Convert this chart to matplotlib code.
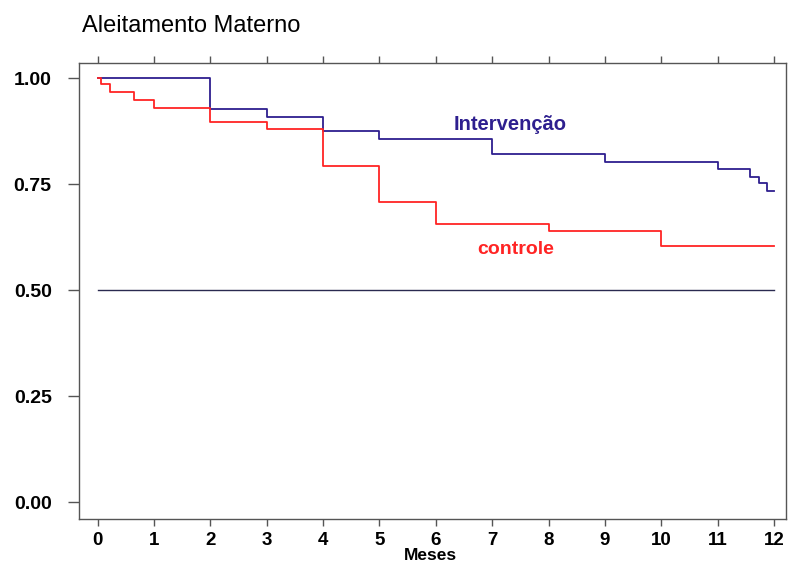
import matplotlib
matplotlib.use('Agg')
import matplotlib.pyplot as plt

plt.rcParams['font.family'] = ['Liberation Sans', 'DejaVu Sans']

# survival curves (Kaplan-Meier)
meses_interv = [0, 2, 3, 4, 5, 7, 9, 11, 11.57, 11.73, 11.87, 12]
surv_interv = [1.0, 0.928, 0.909, 0.875, 0.857, 0.821, 0.802, 0.785, 0.768, 0.752, 0.733, 0.733]

meses_contr = [0, 0.07, 0.22, 0.65, 1, 2, 3, 4, 5, 6, 8, 10, 12]
surv_contr = [1.0, 0.985, 0.968, 0.948, 0.930, 0.897, 0.879, 0.793, 0.707, 0.656, 0.640, 0.605, 0.605]

x_ticks = list(range(0, 13))
y_ticks = [0.00, 0.25, 0.50, 0.75, 1.00]
y_labels = ['0.00', '0.25', '0.50', '0.75', '1.00']

cor_interv = '#2e1f8f'
cor_contr = '#ff2424'
cor_eixo = '#555555'

fig = plt.figure(figsize=(7.91, 5.66), dpi=100)
ax = fig.add_axes([0.1005, 0.0825, 0.8938, 0.8057])

ax.step(meses_interv, surv_interv, where='post', color=cor_interv, lw=1.3)
ax.step(meses_contr, surv_contr, where='post', color=cor_contr, lw=1.3)
ax.plot([0, 12], [0.5, 0.5], color='#2a2a50', lw=1.0)

ax.text(7.31, 0.89, 'Intervenção', color=cor_interv, fontsize=14.5,
        fontweight='bold', ha='center', va='center')
ax.text(7.42, 0.595, 'controle', color=cor_contr, fontsize=14,
        fontweight='bold', ha='center', va='center')

ax.set_xlim(-0.32, 12.22)
ax.set_ylim(-0.04, 1.035)

ax.set_xticks(x_ticks)
ax.set_xticklabels([str(t) for t in x_ticks], fontsize=13.5, fontweight='bold')
ax.set_yticks(y_ticks)
ax.set_yticklabels(y_labels, fontsize=14, fontweight='bold')

ax.tick_params(axis='x', direction='out', length=5.3, width=1, color=cor_eixo,
               pad=3.5, top=True, labeltop=False)
ax.tick_params(axis='y', direction='out', length=8, width=1, color=cor_eixo, pad=12)

for s in ax.spines.values():
    s.set_color(cor_eixo)
    s.set_linewidth(1.0)

fig.text(82 / 791, 1 - 31.7 / 566, 'Aleitamento Materno', fontsize=17,
         ha='left', va='baseline')
fig.text(430 / 791, 1 - 555 / 566, 'Meses', fontsize=12.5, fontweight='bold',
         ha='center', va='center')

fig.savefig('out.png', dpi=100)
